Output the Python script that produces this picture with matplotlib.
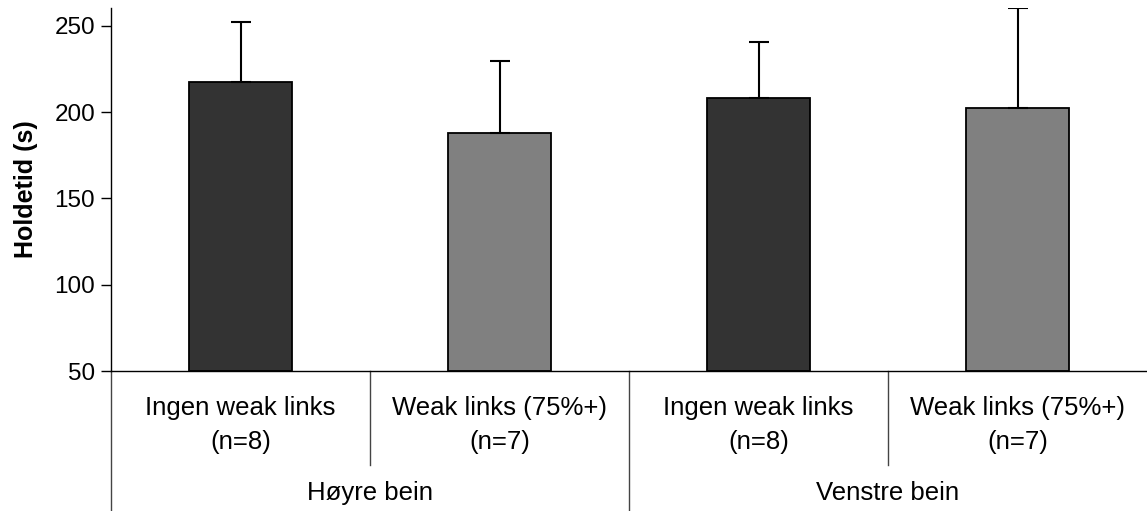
import matplotlib

matplotlib.use("Agg")
import matplotlib.pyplot as plt
import matplotlib.transforms as mtransforms

plt.rcParams["font.family"] = ["Liberation Sans", "DejaVu Sans"]

# data
categories = ["Ingen weak links", "Weak links (75%+)", "Ingen weak links", "Weak links (75%+)"]
counts = ["(n=8)", "(n=7)", "(n=8)", "(n=7)"]
groups = ["Høyre bein", "Venstre bein"]
means = [217.4, 187.8, 208.1, 202.3]
errors_up = [34.7, 41.8, 32.5, 58.0]
colors = ["#333333", "#808080", "#333333", "#808080"]

W, H, DPI = 1147, 511, 100
fig = plt.figure(figsize=(W / DPI, H / DPI), dpi=DPI)
ax = fig.add_axes([111 / W, 1 - 371 / H, 1 - 111 / W, (371 - 8) / H])

x = list(range(len(means)))
base = 50
ax.bar(x, [m - base for m in means], bottom=base, width=0.4, color=colors,
       edgecolor="black", linewidth=1.3, zorder=2)
ax.errorbar(x, means, yerr=[[0] * len(means), errors_up], fmt="none",
            ecolor="black", elinewidth=1.5, capsize=7.5, capthick=1.5, zorder=3)

ax.set_xlim(-0.5, len(means) - 0.5)
ax.set_ylim(50, 260.3)
ax.set_yticks([50, 100, 150, 200, 250])
ax.tick_params(axis="y", labelsize=17.5, length=7.5, width=1, direction="out", pad=4)
ax.set_xticks([])
for side in ("top", "right"):
    ax.spines[side].set_visible(False)
ax.spines["left"].set_linewidth(1)
ax.spines["bottom"].set_linewidth(1)
ax.set_ylabel("Holdetid (s)", fontsize=18, fontweight="bold", labelpad=12)

# multi-level category axis below the plot
trans = mtransforms.blended_transform_factory(ax.transData, ax.transAxes)
def px_to_axes(py):
    return (371 - py) / (371 - 8)

short_bottom = px_to_axes(465)
long_bottom = px_to_axes(511)
for sx in (0.5, 2.5):
    ax.plot([sx, sx], [0, short_bottom], color="#444444", lw=1, transform=trans, clip_on=False)
for sx in (-0.5, 1.5):
    ax.plot([sx, sx], [0, long_bottom], color="#444444", lw=1, transform=trans, clip_on=False)

for i in x:
    ax.text(i, px_to_axes(408), categories[i], ha="center", va="center", fontsize=18.5,
            transform=trans)
    ax.text(i, px_to_axes(442), counts[i], ha="center", va="center", fontsize=18.5,
            transform=trans)
for g, name in enumerate(groups):
    ax.text(2 * g + 0.5, px_to_axes(493), name, ha="center", va="center", fontsize=18.5,
            transform=trans)

fig.savefig("out.png", dpi=DPI)
